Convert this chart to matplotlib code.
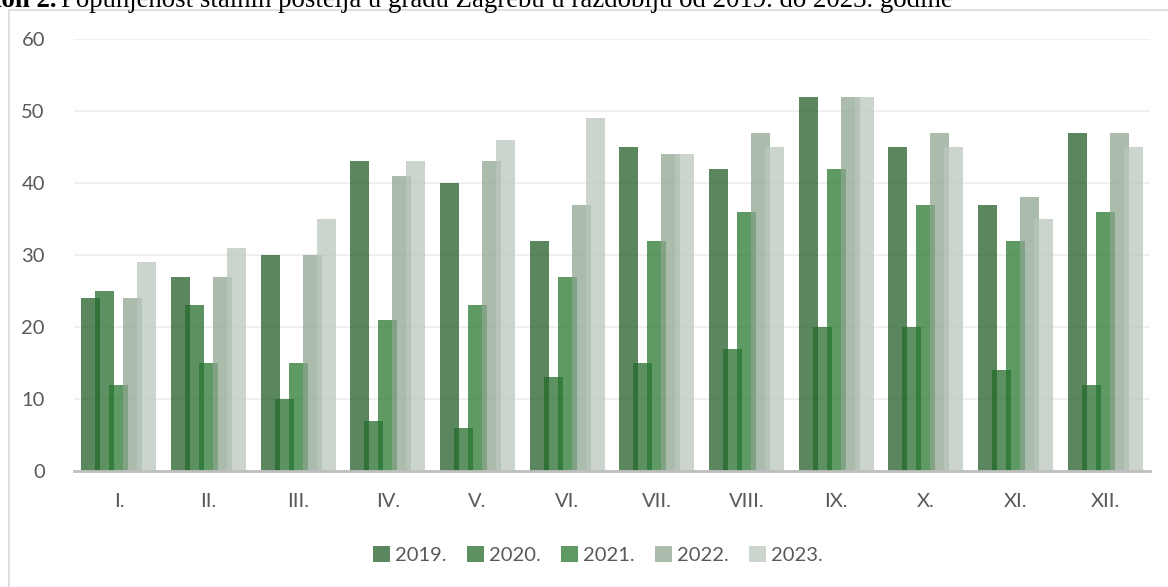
import matplotlib.pyplot as plt
import numpy as np
from matplotlib.patches import Rectangle

# data
months = ["I.", "II.", "III.", "IV.", "V.", "VI.", "VII.", "VIII.", "IX.", "X.", "XI.", "XII."]
years = ["2019.", "2020.", "2021.", "2022.", "2023."]
y2019 = [24, 27, 30, 43, 40, 32, 45, 42, 52, 45, 37, 47]
y2020 = [25, 23, 10, 7, 6, 13, 15, 17, 20, 20, 14, 12]
y2021 = [12, 15, 15, 21, 23, 27, 32, 36, 42, 37, 32, 36]
y2022 = [24, 27, 30, 41, 43, 37, 44, 47, 52, 47, 38, 47]
y2023 = [29, 31, 35, 43, 46, 49, 44, 45, 52, 45, 35, 45]
series = [y2019, y2020, y2021, y2022, y2023]

# translucent fills, so overlapping bars darken like in the original
colors = ["#205d25", "#256b2b", "#27772f", "#8ea590", "#bbc6bd"]
alpha = 0.74

plt.rcParams['font.family'] = ['Lato', 'DejaVu Sans']

fig = plt.figure(figsize=(11.68, 5.87), dpi=100)
ax = fig.add_axes([0.0634, 0.1976, 0.9212, 0.736])

x = np.arange(len(months))
step = 0.156
width = 0.212
for i, (vals, yr) in enumerate(zip(series, years)):
    ax.bar(x + (i - 2) * step, vals, width=width, color=colors[i], alpha=alpha,
           label=yr, zorder=3 + i, linewidth=0)

ax.set_xlim(-0.5, 11.5)
ax.set_ylim(0, 60)
ax.set_yticks(np.arange(0, 61, 10))
ax.set_xticks(x)
ax.set_xticklabels(months)

ax.grid(axis='y', color='#eeeeee', linewidth=1.2, zorder=0)
ax.set_axisbelow(True)
for s in ['top', 'right', 'left']:
    ax.spines[s].set_visible(False)
ax.spines['bottom'].set_color('#bfbfbf')
ax.spines['bottom'].set_linewidth(2)
ax.spines['bottom'].set_zorder(10)
ax.tick_params(axis='both', length=0, colors='#595959', labelsize=14.5)
ax.tick_params(axis='y', pad=21)
ax.tick_params(axis='x', pad=16)

leg = fig.legend(loc='center', bbox_to_anchor=(598 / 1168, 1 - 555 / 587), ncol=5,
                 frameon=False, fontsize=14.5, handlelength=0.85, handleheight=0.85,
                 handletextpad=0.25, columnspacing=1.0)
for t in leg.get_texts():
    t.set_color('#595959')

# chart frame
fig.patches.append(Rectangle((9 / 1168, -0.01), 1.1, 1 - 10 / 587 + 0.01,
                             transform=fig.transFigure, fill=False,
                             edgecolor='#d9d9d9', linewidth=1.2))

# caption, cut off at the top like the source screenshot
fig.text(56 / 1168, 1 - 7 / 587, "Grafikon 2.", ha='right', va='baseline',
         fontsize=19.3, fontweight='bold', family='Liberation Serif')
fig.text(61 / 1168, 1 - 7 / 587,
         "Popunjenost stalnih postelja u gradu Zagrebu u razdoblju od 2019. do 2023. godine",
         ha='left', va='baseline', fontsize=19.3, family='Liberation Serif')

fig.savefig("out.png", dpi=100)
